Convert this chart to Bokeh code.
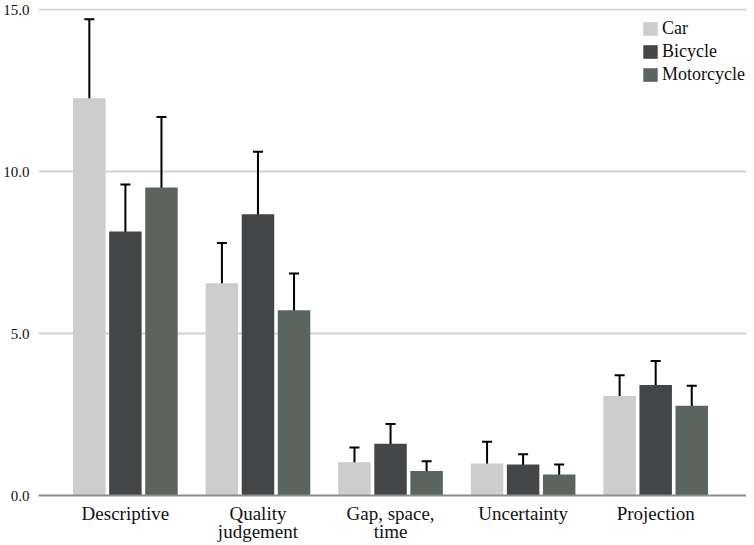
from bokeh.plotting import figure
from bokeh.models import ColumnDataSource, Range1d, FixedTicker, Whisker, TeeHead
from bokeh.embed import file_html
from bokeh.resources import INLINE

categories = ["Descriptive", "Quality\njudgement", "Gap, space,\ntime", "Uncertainty", "Projection"]
series = ["Car", "Bicycle", "Motorcycle"]
colors = ["#cdcdcd", "#444546", "#5b645e"]

car = [12.26, 6.55, 1.03, 0.99, 3.07]
car_lo = [9.87, 5.31, 0.60, 0.32, 2.41]
car_hi = [14.70, 7.79, 1.48, 1.66, 3.71]

bicycle = [8.15, 8.68, 1.60, 0.96, 3.41]
bicycle_lo = [6.74, 6.74, 1.00, 0.68, 2.66]
bicycle_hi = [9.60, 10.61, 2.21, 1.27, 4.15]

motorcycle = [9.51, 5.72, 0.76, 0.65, 2.77]
motorcycle_lo = [7.39, 4.62, 0.51, 0.38, 2.16]
motorcycle_hi = [11.68, 6.85, 1.06, 0.96, 3.39]

y_ticks = [0, 5, 10, 15]

values = [car, bicycle, motorcycle]
lows = [car_lo, bicycle_lo, motorcycle_lo]
highs = [car_hi, bicycle_hi, motorcycle_hi]

p = figure(width=746, height=545, output_backend="svg", toolbar_location=None,
           x_range=Range1d(-0.6555, 4.685), y_range=Range1d(0, 15.031),
           min_border_left=29, min_border_right=0, min_border_top=8, min_border_bottom=48)
p.outline_line_color = None
p.background_fill_color = "white"

offset = 0.272
bar_w = 0.245
idx = list(range(len(categories)))
for k, (name, col) in enumerate(zip(series, colors)):
    xs = [i + (k - 1) * offset for i in idx]
    src = ColumnDataSource(dict(x=xs, top=values[k], lo=lows[k], hi=highs[k]))
    p.vbar(x="x", top="top", width=bar_w, source=src, fill_color=col, line_color=None,
           legend_label=name)
    w = Whisker(base="x", upper="hi", lower="lo", source=src, line_color="black", line_width=2,
                upper_head=TeeHead(size=10, line_width=2, line_color="black"),
                lower_head=TeeHead(size=10, line_width=2, line_color="black"))
    p.add_layout(w)

ax = p.xaxis[0]
ax.ticker = FixedTicker(ticks=idx)
ax.major_label_overrides = {i: c for i, c in zip(idx, categories)}
ax.major_tick_line_color = None
ax.minor_tick_line_color = None
ax.axis_line_color = "#8c8c8c"
ax.axis_line_width = 2
ax.major_label_text_font = "Liberation Serif"
ax.major_label_text_font_size = "19px"
ax.major_label_text_line_height = 0.9
ax.major_label_text_color = "#111111"
ax.major_label_standoff = 1
p.xgrid.grid_line_color = None

p.yaxis.ticker = FixedTicker(ticks=y_ticks)
p.yaxis.major_label_overrides = {t: f"{t:.1f}" for t in y_ticks}
p.yaxis.axis_line_color = None
p.yaxis.major_tick_line_color = None
p.yaxis.minor_tick_line_color = None
p.yaxis.major_label_text_font = "Liberation Serif"
p.yaxis.major_label_text_font_size = "15px"
p.yaxis.major_label_text_color = "#111111"
p.yaxis.major_label_standoff = 3
p.ygrid.grid_line_color = "#d4d4d4"
p.ygrid.grid_line_width = 2

lg = p.legend[0]
lg.location = (603, 410)
lg.background_fill_alpha = 0
lg.border_line_color = None
lg.padding = 0
lg.margin = 0
lg.spacing = 2
lg.glyph_width = 18
lg.glyph_height = 17
lg.label_height = 20
lg.label_standoff = 3
lg.label_text_font = "Liberation Serif"
lg.label_text_font_size = "18px"
lg.label_text_color = "#111111"

open("out.html", "w").write(file_html(p, INLINE))
